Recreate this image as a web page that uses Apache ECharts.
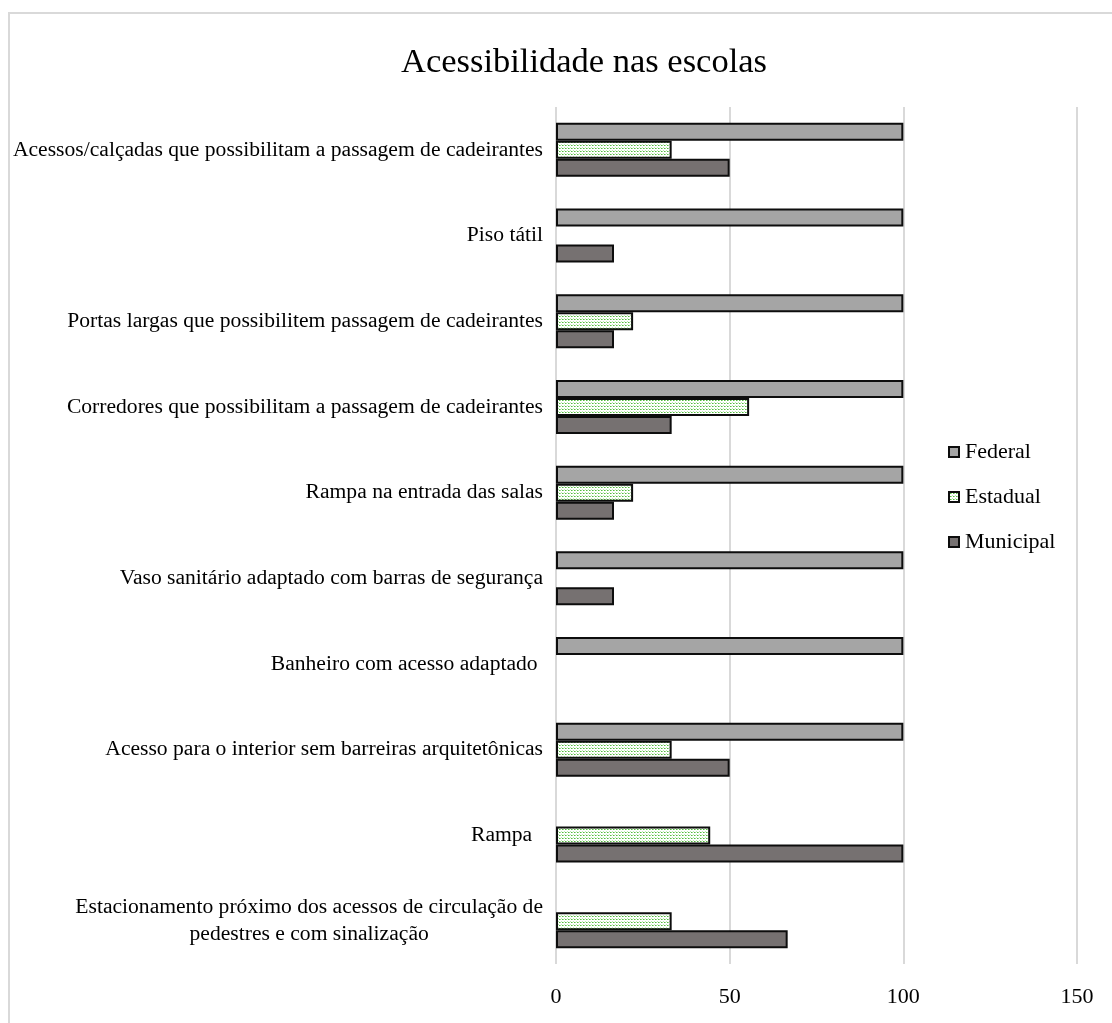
<!DOCTYPE html>
<html>
<head>
<meta charset="utf-8">
<script src="https://cdn.jsdelivr.net/npm/echarts@6/dist/echarts.min.js"></script>
<style>
html,body{margin:0;padding:0;background:#fff;}
#chart{width:1112px;height:1023px;}
</style>
</head>
<body>
<div id="chart"></div>
<script>
const categories = [
  'Acessos/calçadas que possibilitam a passagem de cadeirantes',
  'Piso tátil',
  'Portas largas que possibilitem passagem de cadeirantes',
  'Corredores que possibilitam a passagem de cadeirantes',
  'Rampa na entrada das salas',
  'Vaso sanitário adaptado com barras de segurança',
  'Banheiro com acesso adaptado ',
  'Acesso para o interior sem barreiras arquitetônicas',
  'Rampa  ',
  'Estacionamento próximo dos acessos de circulação de\npedestres e com sinalização'
];
const federal   = [100, 100, 100, 100, 100, 100, 100, 100, 0, 0];
const estadual  = [33.3, 0, 22.2, 55.6, 22.2, 0, 0, 33.3, 44.4, 33.3];
const municipal = [50, 16.7, 16.7, 33.3, 16.7, 16.7, 0, 50, 100, 66.7];
const xTicks = [0, 50, 100, 150];

// dotted green pattern for Estadual
const pat = document.createElement('canvas');
pat.width = 3; pat.height = 3;
const pctx = pat.getContext('2d');
pctx.fillStyle = '#ffffff'; pctx.fillRect(0, 0, 3, 3);
pctx.fillStyle = '#bfe8b4'; pctx.fillRect(0, 0, 1, 1);
pctx.fillStyle = '#52bb3f'; pctx.fillRect(1, 1, 1, 1);
pctx.fillStyle = '#9fdc90'; pctx.fillRect(2, 1, 1, 1);

const blankZero = arr => arr.map(v => v === 0 ? '-' : v);

const chart = echarts.init(document.getElementById('chart'), null, {renderer: 'canvas'});
const font = '"Liberation Serif", "Times New Roman", serif';

const barBase = {
  type: 'bar',
  barGap: '0%',
  barCategoryGap: '37%',
  itemStyle: {borderColor: '#0d0d0d', borderWidth: 2}
};

chart.setOption({
  backgroundColor: '#ffffff',
  animation: false,
  textStyle: {fontFamily: font},
  graphic: [{
    type: 'rect', silent: true,
    shape: {x: 9, y: 13, width: 1300, height: 1300},
    style: {fill: 'none', stroke: '#d9d9d9', lineWidth: 2}
  }],
  title: {
    text: 'Acessibilidade nas escolas',
    left: 396, top: 40,
    textStyle: {fontFamily: font, fontSize: 34.5, fontWeight: 'normal', color: '#000'}
  },
  legend: {
    orient: 'vertical',
    left: 943, top: 436,
    itemWidth: 10, itemHeight: 10,
    itemGap: 23,
    icon: 'rect',
    textStyle: {fontFamily: font, fontSize: 22, color: '#000', padding: [0, 0, 0, 1]},
    data: ['Federal', 'Estadual', 'Municipal']
  },
  grid: {left: 556, right: 35, top: 107, bottom: 59, containLabel: false},
  xAxis: {
    type: 'value',
    min: xTicks[0], max: xTicks[xTicks.length - 1], interval: 50,
    axisLine: {show: false},
    axisTick: {show: false},
    axisLabel: {fontFamily: font, fontSize: 22, color: '#000', margin: 22},
    splitLine: {show: true, lineStyle: {color: '#d9d9d9', width: 2}}
  },
  yAxis: {
    type: 'category',
    inverse: true,
    data: categories,
    axisLine: {show: false},
    axisTick: {show: false},
    axisLabel: {
      fontFamily: font, fontSize: 21.6, color: '#000', margin: 13,
      lineHeight: 27,
      formatter: v => v.indexOf('\n') >= 0 ? v.split('\n').map(l => '{c|' + l + '}').join('\n') : v,
      rich: {c: {align: 'center', fontFamily: font, fontSize: 21.6, lineHeight: 27, color: '#000'}}
    }
  },
  series: [
    Object.assign({}, barBase, {name: 'Federal', data: blankZero(federal), itemStyle: Object.assign({}, barBase.itemStyle, {color: '#a5a5a5'})}),
    Object.assign({}, barBase, {name: 'Estadual', data: blankZero(estadual), itemStyle: Object.assign({}, barBase.itemStyle, {color: {image: pat, repeat: 'repeat'}})}),
    Object.assign({}, barBase, {name: 'Municipal', data: blankZero(municipal), itemStyle: Object.assign({}, barBase.itemStyle, {color: '#767171'})})
  ]
});
</script>
</body>
</html>
